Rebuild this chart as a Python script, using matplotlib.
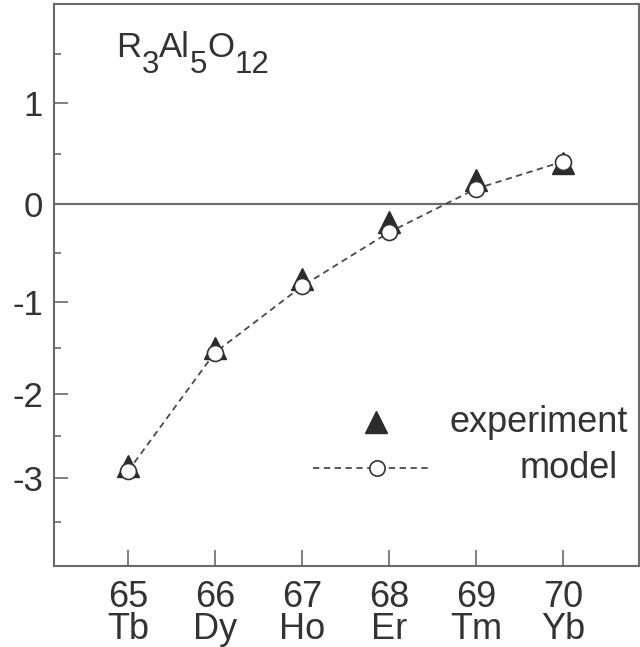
import numpy as np
import matplotlib.pyplot as plt
from matplotlib.ticker import FixedLocator

plt.rcParams['font.family'] = ['Liberation Sans', 'DejaVu Sans']
plt.rcParams['axes.unicode_minus'] = False

# atomic number / element and the two data series
z = [65, 66, 67, 68, 69, 70]
elements = ['Tb', 'Dy', 'Ho', 'Er', 'Tm', 'Yb']
experiment = [-2.86, -1.50, -0.77, -0.18, 0.24, 0.41]
model = [-2.92, -1.55, -0.84, -0.29, 0.15, 0.42]

y_major = [-3, -2, -1, 0, 1]
y_minor = [-3.5, -2.5, -1.5, -0.5, 0.5, 1.5]

# the scanned y axis is not quite linear, so rebuild it piecewise
warp_vals = [-4, -3, -2, -1, 0, 1, 2]
warp_px = [0, 88, 172, 264, 362, 463, 562]

def fwd(v):
    return np.interp(v, warp_vals, warp_px)

def inv(u):
    return np.interp(u, warp_px, warp_vals)

TXT = '#333333'
AXC = '#6a6a6a'

fig = plt.figure(figsize=(6.4, 6.47), dpi=100)
ax = fig.add_axes([54 / 640, 1 - 566 / 647, 584.5 / 640, 562 / 647])
ax.set_yscale('function', functions=(fwd, inv))

ax.axhline(0, color=AXC, lw=1.6, zorder=1)
ax.plot(z, experiment, ls='none', marker='^', ms=16.5, color='#2c2c2c', zorder=2)
ax.plot(z, model, ls=(0, (3.5, 2.5)), lw=1.3, color='#4a4a4a',
        marker='o', ms=11.5, mfc='white', mec='#333333', mew=1.2, zorder=3)

# hand made legend, like in the original
ax.plot([0.551], [0.256], transform=ax.transAxes, marker='^', ms=16.5,
        color='#2c2c2c', ls='none', clip_on=False)
ax.plot([0.4435, 0.644], [0.174, 0.174], transform=ax.transAxes,
        ls=(0, (3.5, 2.5)), lw=1.3, color='#4a4a4a')
ax.plot([0.553], [0.174], transform=ax.transAxes, marker='o', ms=11,
        mfc='white', mec='#333333', mew=1.2, ls='none')
ax.text(0.676, 0.256, 'experiment', transform=ax.transAxes, fontsize=26,
        va='center', ha='left', color=TXT)
ax.text(0.796, 0.174, 'model', transform=ax.transAxes, fontsize=26,
        va='center', ha='left', color=TXT)

# R3Al5O12 with big subscripts
formula = [('R', False), ('3', True), ('Al', False), ('5', True), ('O', False), ('12', True)]
prev = None
for s, sub in formula:
    size = 22.5 if sub else 25
    if prev is None:
        prev = ax.text(0.107, 0.906, s, transform=ax.transAxes, fontsize=size,
                       va='baseline', ha='left', color=TXT)
    else:
        dy = -12 if sub else 12
        prev = ax.annotate(s, xy=(1, 0), xycoords=prev, xytext=(0, dy),
                           textcoords='offset points', fontsize=size,
                           va='bottom', ha='left', color=TXT)

ax.set_xlim(64.15, 70.87)
ax.set_ylim(-4, 2)

ax.set_xticks(z)
ax.set_xticklabels([f'{n}\n{el}' for n, el in zip(z, elements)], linespacing=0.9)
ax.yaxis.set_major_locator(FixedLocator(y_major))
ax.yaxis.set_minor_locator(FixedLocator(y_minor))
ax.set_yticklabels([str(v) for v in y_major])
ax.xaxis.set_minor_locator(FixedLocator([]))

ax.tick_params(axis='y', which='major', direction='in', length=10, width=1.2,
               color=AXC, labelsize=25, pad=8, labelcolor=TXT)
ax.tick_params(axis='y', which='minor', direction='in', length=5, width=1.2, color=AXC)
ax.tick_params(axis='x', direction='in', length=11.5, width=1.2, color=AXC,
               labelsize=26, pad=10, labelcolor=TXT)

for sp in ax.spines.values():
    sp.set_color(AXC)
    sp.set_linewidth(1.5)

fig.savefig('out.png', dpi=100)
